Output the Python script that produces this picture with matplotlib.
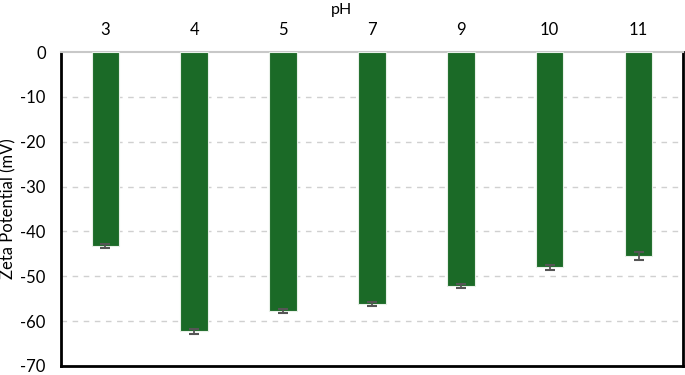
import matplotlib
matplotlib.use("Agg")
import matplotlib.pyplot as plt
import numpy as np

ph_labels = ["3", "4", "5", "7", "9", "10", "11"]
zeta = [-43.2, -62.3, -57.7, -56.2, -52.2, -48.0, -45.5]
err = [0.5, 0.6, 0.5, 0.5, 0.4, 0.6, 0.9]

plt.rcParams['font.family'] = ['Lato', 'DejaVu Sans']

fig = plt.figure(figsize=(6.85, 3.75), dpi=100)
ax = fig.add_axes([0.089, 0.024, 0.908, 0.837])

x = np.arange(len(ph_labels))
ax.bar(x, zeta, width=0.31, color="#1b6a27", edgecolor="#e8f0e8", linewidth=0.8, zorder=3)
ax.errorbar(x, zeta, yerr=err, fmt="none", ecolor="#555555", elinewidth=1.3, capsize=3.5, capthick=1.5, zorder=4)

ax.set_xlim(-0.5, len(ph_labels) - 0.5)
ax.set_ylim(-70, 0)
ax.set_yticks(np.arange(-70, 1, 10))
ax.set_yticklabels([str(v) for v in range(-70, 1, 10)], fontsize=12)

ax.xaxis.tick_top()
ax.xaxis.set_label_position("top")
ax.set_xticks(x)
ax.set_xticklabels(ph_labels, fontsize=12)
ax.set_xlabel("pH", fontsize=11.5)
ax.xaxis.set_label_coords(281 / 622, 1.0 + 38 / 314)
ax.set_ylabel("Zeta Potential (mV)", fontsize=12)
ax.yaxis.set_label_coords(-45 / 622, 0.5)
ax.tick_params(axis="x", length=0, pad=10)
ax.tick_params(axis="y", length=0, pad=11)

for v in range(-60, 0, 10):
    ax.axhline(v, color="#d0d0d0", linestyle=(0, (4, 4)), linewidth=1.0, zorder=1)

for s in ["left", "bottom", "right"]:
    ax.spines[s].set_color("black")
    ax.spines[s].set_linewidth(2)
ax.spines["top"].set_color("#c8c8c8")
ax.spines["top"].set_linewidth(1.5)

fig.savefig("out.png", dpi=100)
